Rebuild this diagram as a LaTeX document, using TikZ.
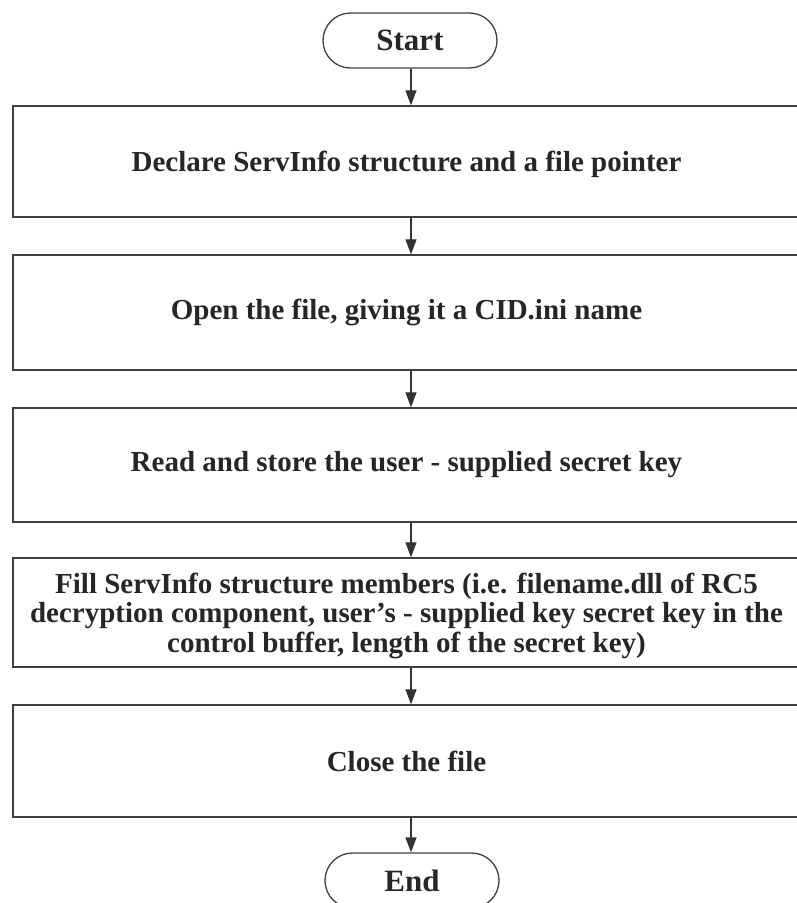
\documentclass[tikz,border=0pt]{standalone}
\usepackage{fontspec}
\setmainfont{Liberation Serif}
\usetikzlibrary{arrows.meta,shapes.misc}
\begin{document}
\begin{tikzpicture}[x=1pt,y=-1pt,
  every node/.style={font=\fontsize{29}{29.5}\selectfont\bfseries, text=black!85},
  stepbox/.style={draw=black!75, line width=1.4pt, minimum width=787pt, inner sep=0pt, align=center},
  terminal/.style={draw=black!75, line width=1.3pt, rounded rectangle, minimum width=174pt, minimum height=55pt, inner sep=0pt, font=\fontsize{31}{34}\selectfont\bfseries},
  arr/.style={draw=black!80, line width=1.3pt, -{Triangle[length=15pt,width=11pt]}}
]
\useasboundingbox (0,0) rectangle (797,903);
\clip (0,0) rectangle (797,903);

% start and end terminals, process boxes
\node[terminal] (start) at (410,40.5) {Start};
\node[stepbox, minimum height=111pt] (b1) at (406.5,161.5) {};
\node[stepbox, minimum height=115pt] (b2) at (406.5,312.5) {};
\node[stepbox, minimum height=114pt] (b3) at (406.5,465) {};
\node[stepbox, minimum height=109pt] (b4) at (406.5,612.5) {};
\node[stepbox, minimum height=112pt] (b5) at (406.5,761) {};
\node[terminal] (end) at (412,880.5) {End};

% box captions
\node[align=center] (t1) at ([yshift=-2.5pt]b1.center) {Declare ServInfo structure and a file pointer};
\node[align=center] (t2) at (b2.center) {Open the file, giving it a CID.ini name};
\node[align=center] (t3) at (b3.center) {Read and store the user - supplied secret key};
\node[align=center] (t4) at ([yshift=-3pt]b4.center) {Fill ServInfo structure members (i.e. filename.dll of RC5\\decryption component, user's - supplied key secret key in the\\control buffer, length of the secret key)};
\node[align=center] (t5) at (b5.center) {Close the file};

\coordinate (ax) at (411,0);
\draw[arr] (ax |- start.south) -- (ax |- b1.north);
\draw[arr] (ax |- b1.south) -- (ax |- b2.north);
\draw[arr] (ax |- b2.south) -- (ax |- b3.north);
\draw[arr] (ax |- b3.south) -- (ax |- b4.north);
\draw[arr] (ax |- b4.south) -- (ax |- b5.north);
\draw[arr] (ax |- b5.south) -- (ax |- end.north);
\end{tikzpicture}
\end{document}
